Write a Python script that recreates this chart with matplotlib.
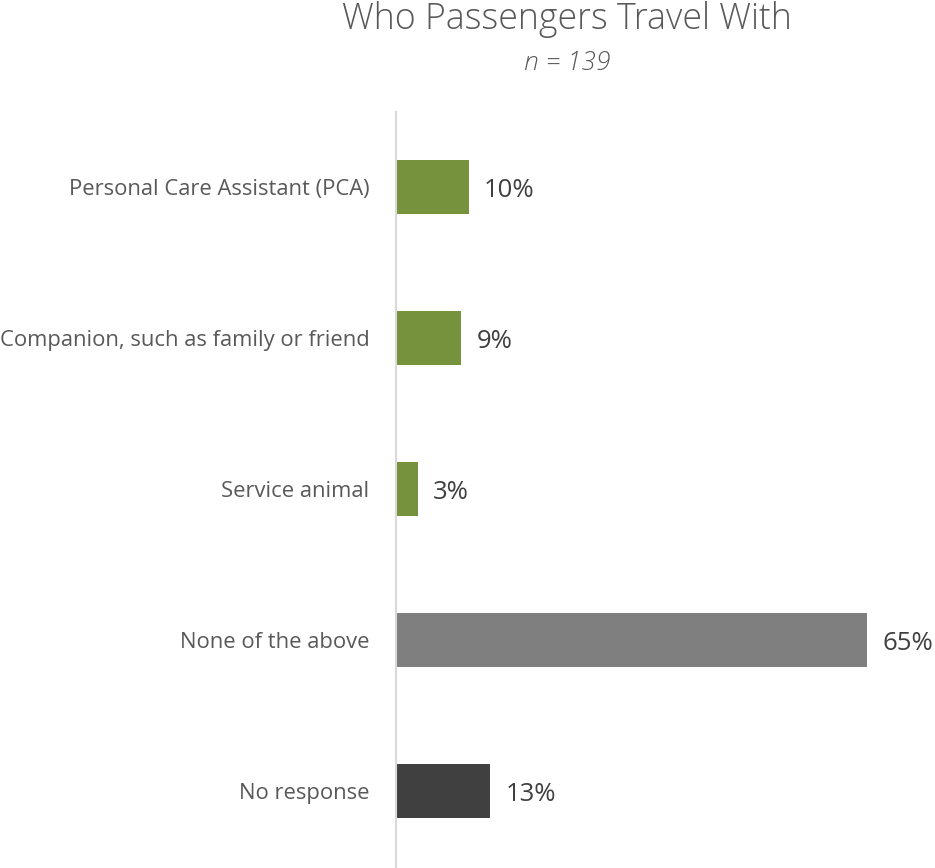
import matplotlib
matplotlib.use("Agg")
import matplotlib.pyplot as plt

plt.rcParams['font.family'] = ['Open Sans', 'DejaVu Sans']

categories = [
    "Personal Care Assistant (PCA)",
    "Companion, such as family or friend",
    "Service animal",
    "None of the above",
    "No response",
]
shares = [10, 9, 3, 65, 13]
bar_colors = ["#76923C", "#76923C", "#76923C", "#7F7F7F", "#404040"]
value_labels = ["10%", "9%", "3%", "65%", "13%"]

W, H = 935, 868
fig = plt.figure(figsize=(W / 100, H / 100), dpi=100)
ax = fig.add_axes([396 / W, 0, 1 - 396 / W, 756 / H])

px_per_pct = 7.25
ax.set_xlim(0, (W - 396) / px_per_pct)
ax.set_ylim(4.51, -0.497)

ypos = list(range(len(categories)))
ax.barh(ypos, shares, height=0.355, color=bar_colors)

for y, v, lab in zip(ypos, shares, value_labels):
    ax.annotate(lab, (v, y), xytext=(11, -2.5), textcoords="offset points",
                va="center", ha="left", fontsize=18.5, color="#404040")

ax.set_yticks(ypos)
ax.set_yticklabels(categories, fontsize=15.8, color="#595959")
ax.tick_params(axis="y", length=0, pad=19)
ax.set_xticks([])

for side in ("top", "right", "bottom"):
    ax.spines[side].set_visible(False)
ax.spines["left"].set_color("#D9D9D9")
ax.spines["left"].set_linewidth(1.5)

fig.text(567 / W, 1 - 20 / H, "Who Passengers Travel With", ha="center", va="center",
         fontsize=25.7, color="#595959", fontweight="light")
fig.text(567 / W, 1 - 63 / H, "n = 139", ha="center", va="center",
         fontsize=19, color="#595959", style="italic", fontweight="light")

fig.savefig("out.png", dpi=100, facecolor="white")
